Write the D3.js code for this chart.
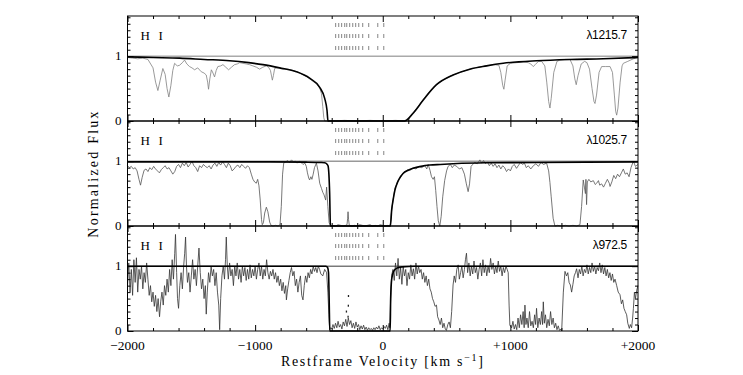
<!DOCTYPE html>
<html>
<head>
<meta charset="utf-8">
<script src="https://cdn.jsdelivr.net/npm/d3@7"></script>
<style>
    body { margin: 0; background: #fff; }
    svg { display: block; }
</style>
</head>
<body>
<svg></svg>
<script>
// velocities in km/s, fluxes normalised to the continuum
var panelNames = ["H I", "H I", "H I"];
var panelLines = ["λ1215.7", "λ1025.7", "λ972.5"];
var xMajor = [-2000, -1000, 0, 1000, 2000];
var xTickLabels = ["\u22122000", "\u22121000", "0", "+1000", "+2000"];
var yLabelled = [0, 1];
var yTickLabels = ["0", "1"];
var componentVel = [-369, -345, -322, -298, -282, -259, -235, -212, -188, -157, -110, -39, 8];

var lyaData = [[-2000,0.98],[-1960,0.97],[-1920,0.96],[-1880,0.97],[-1840,0.95],[-1800,0.82],[-1780,0.6],[-1762,0.47],[-1745,0.62],[-1723,0.81],[-1705,0.72],[-1690,0.5],[-1676,0.37],[-1660,0.55],[-1645,0.78],[-1631,0.89],[-1610,0.85],[-1592,0.86],[-1570,0.9],[-1553,0.94],[-1535,0.88],[-1514,0.84],[-1495,0.82],[-1474,0.79],[-1450,0.82],[-1422,0.76],[-1400,0.74],[-1383,0.71],[-1372,0.6],[-1365,0.49],[-1355,0.65],[-1343,0.79],[-1330,0.74],[-1318,0.68],[-1305,0.78],[-1292,0.84],[-1270,0.85],[-1252,0.87],[-1230,0.83],[-1208,0.79],[-1185,0.83],[-1161,0.87],[-1140,0.88],[-1121,0.9],[-1095,0.89],[-1069,0.88],[-1045,0.87],[-1017,0.85],[-990,0.83],[-965,0.8],[-940,0.83],[-912,0.85],[-895,0.83],[-880,0.78],[-870,0.68],[-865,0.63],[-857,0.7],[-847,0.81],[-830,0.82],[-808,0.82],[-780,0.8],[-750,0.8],[-720,0.79],[-690,0.77],[-660,0.75],[-630,0.72],[-600,0.69],[-573,0.65],[-545,0.61],[-520,0.57],[-494,0.51],[-480,0.42],[-470,0.22],[-462,0.05],[-455,0],[-400,0],[-300,0.01],[-200,0],[-100,0.01],[0,0],[100,0.01],[172,0],[200,0.05],[238,0.13],[280,0.23],[316,0.33],[360,0.44],[421,0.56],[480,0.64],[551,0.71],[620,0.76],[682,0.8],[750,0.83],[813,0.85],[870,0.87],[910,0.86],[925,0.75],[940,0.55],[949,0.49],[958,0.62],[975,0.85],[1000,0.89],[1050,0.9],[1100,0.91],[1140,0.9],[1160,0.88],[1179,0.84],[1195,0.87],[1220,0.92],[1245,0.92],[1270,0.85],[1285,0.6],[1300,0.3],[1310,0.2],[1320,0.35],[1340,0.75],[1365,0.92],[1388,0.94],[1430,0.95],[1467,0.95],[1490,0.85],[1505,0.65],[1516,0.56],[1530,0.7],[1555,0.88],[1582,0.92],[1600,0.9],[1620,0.8],[1640,0.5],[1655,0.3],[1663,0.27],[1675,0.4],[1695,0.75],[1715,0.84],[1745,0.84],[1781,0.84],[1800,0.75],[1815,0.4],[1825,0.15],[1833,0.09],[1843,0.2],[1860,0.6],[1875,0.85],[1885,0.89],[1920,0.92],[1964,0.96],[2000,0.98]];
var lyaModel = [[-2000,0.99],[-1800,0.98],[-1592,0.97],[-1400,0.95],[-1200,0.93],[-1050,0.9],[-939,0.87],[-808,0.82],[-677,0.76],[-573,0.66],[-494,0.52],[-455,0.35],[-437,0.17],[-429,0],[172,0],[238,0.12],[316,0.32],[421,0.56],[551,0.71],[682,0.8],[813,0.85],[944,0.89],[1205,0.93],[1467,0.95],[1728,0.96],[2000,0.98]];

var lybData = [[-2000,0.93],[-1985,0.9],[-1970,0.92],[-1955,0.88],[-1940,0.9],[-1925,0.85],[-1910,0.72],[-1898,0.63],[-1885,0.75],[-1870,0.86],[-1855,0.88],[-1840,0.84],[-1825,0.9],[-1810,0.87],[-1795,0.92],[-1780,0.88],[-1765,0.85],[-1750,0.82],[-1735,0.87],[-1720,0.9],[-1705,0.93],[-1690,0.88],[-1675,0.9],[-1660,0.85],[-1645,0.8],[-1630,0.84],[-1615,0.92],[-1600,0.95],[-1585,0.9],[-1570,0.97],[-1555,0.93],[-1540,0.98],[-1525,0.91],[-1510,0.95],[-1495,1.0],[-1480,0.93],[-1465,0.9],[-1450,0.84],[-1435,0.93],[-1420,0.9],[-1405,0.95],[-1390,0.92],[-1375,0.9],[-1360,0.93],[-1345,0.88],[-1330,0.94],[-1315,0.97],[-1300,0.92],[-1285,0.98],[-1270,0.94],[-1255,0.99],[-1240,0.95],[-1225,0.9],[-1210,0.97],[-1195,0.93],[-1180,0.85],[-1165,0.88],[-1150,0.92],[-1135,0.94],[-1120,0.9],[-1105,0.95],[-1090,0.92],[-1075,0.89],[-1060,0.93],[-1045,0.9],[-1030,0.8],[-1017,0.72],[-1004,0.68],[-991,0.66],[-980,0.72],[-970,0.62],[-960,0.4],[-950,0.1],[-944,0.02],[-935,0.05],[-925,0.2],[-912,0.29],[-900,0.22],[-886,0.06],[-875,0.01],[-860,0],[-840,0.01],[-820,0],[-805,0.02],[-795,0.3],[-785,0.8],[-776,0.97],[-760,0.99],[-745,1.01],[-730,0.98],[-715,1.02],[-700,0.99],[-685,1.0],[-670,0.97],[-655,1.0],[-640,0.98],[-625,0.95],[-610,0.97],[-599,0.92],[-590,0.82],[-580,0.74],[-573,0.71],[-563,0.76],[-555,0.72],[-545,0.8],[-535,0.9],[-520,0.97],[-507,0.85],[-494,0.66],[-480,0.58],[-470,0.52],[-460,0.48],[-447,0.4],[-440,0.6],[-430,0.3],[-420,0.05],[-410,0],[-390,0.01],[-370,0],[-350,0.02],[-330,0.01],[-310,0],[-290,0.01],[-280,0.02],[-275,0.12],[-272,0.22],[-268,0.1],[-262,0.01],[-240,0],[-220,0.01],[-200,0],[-180,0.02],[-160,0.01],[-140,0],[-120,0.01],[-100,0.02],[-80,0],[-60,0.01],[-40,0],[-20,0.02],[0,0.01],[20,0],[40,0.01],[55,0],[60,0.05],[70,0.25],[81,0.4],[95,0.58],[107,0.63],[120,0.7],[135,0.74],[159,0.81],[175,0.84],[195,0.87],[215,0.86],[238,0.9],[260,0.88],[285,0.92],[305,0.9],[330,0.93],[345,0.88],[356,0.95],[370,0.86],[382,0.76],[395,0.72],[405,0.76],[415,0.55],[425,0.3],[435,0.08],[447,0],[458,0.15],[470,0.45],[485,0.7],[500,0.85],[512,0.92],[530,0.95],[545,0.9],[560,0.94],[580,0.92],[600,0.88],[620,0.9],[640,0.8],[655,0.65],[669,0.53],[680,0.65],[692,0.92],[705,0.95],[720,0.98],[740,0.96],[761,1.02],[775,0.97],[790,1.01],[805,0.96],[820,0.99],[835,0.93],[850,0.97],[865,0.92],[880,0.96],[895,0.9],[910,0.94],[925,0.88],[940,0.93],[955,0.9],[970,0.84],[985,0.88],[1000,0.85],[1015,0.92],[1030,0.95],[1048,0.89],[1065,0.94],[1080,0.98],[1095,0.95],[1110,0.97],[1125,0.9],[1140,0.93],[1160,0.88],[1180,0.93],[1200,0.96],[1220,0.92],[1240,0.98],[1260,0.95],[1284,0.97],[1300,0.85],[1310,0.67],[1320,0.45],[1335,0.12],[1349,0],[1370,0.01],[1400,0],[1430,0.01],[1460,0],[1490,0.01],[1520,0],[1545,0.02],[1558,0.3],[1571,0.71],[1580,0.6],[1588,0.5],[1592,0.72],[1597,0.33],[1603,0.68],[1615,0.72],[1630,0.68],[1650,0.7],[1665,0.64],[1676,0.66],[1690,0.7],[1700,0.63],[1715,0.65],[1730,0.6],[1745,0.66],[1760,0.72],[1775,0.66],[1781,0.61],[1795,0.68],[1810,0.78],[1825,0.73],[1840,0.8],[1855,0.76],[1870,0.82],[1885,0.88],[1900,0.8],[1915,0.82],[1930,0.76],[1945,0.9],[1964,1.0],[1980,0.92],[2000,0.95]];
var lybModel = [[-2000,0.99],[-1000,0.99],[-600,0.985],[-480,0.98],[-455,0.975],[-440,0.96],[-429,0.93],[-422,0.8],[-416,0.5],[-410,0],[60,0],[70,0.25],[81,0.4],[95,0.55],[107,0.63],[130,0.73],[159,0.81],[200,0.86],[238,0.89],[300,0.92],[369,0.94],[450,0.95],[551,0.96],[800,0.975],[1200,0.98],[2000,0.99]];

var lygData = [[-2000,0.7],[-1990,1.05],[-1980,0.6],[-1970,0.95],[-1960,0.55],[-1950,1.1],[-1940,0.75],[-1930,1.13],[-1920,0.6],[-1910,0.95],[-1900,0.8],[-1890,1.0],[-1880,0.65],[-1870,0.9],[-1860,0.75],[-1850,1.05],[-1840,0.8],[-1830,0.55],[-1820,0.7],[-1810,0.45],[-1800,0.6],[-1790,0.38],[-1780,0.55],[-1770,0.3],[-1760,0.5],[-1749,0.22],[-1740,0.45],[-1730,0.6],[-1720,0.4],[-1710,0.7],[-1700,0.55],[-1690,0.8],[-1680,0.6],[-1670,0.95],[-1660,0.7],[-1650,1.1],[-1640,0.8],[-1630,1.2],[-1624,1.49],[-1615,0.9],[-1608,0.5],[-1600,0.35],[-1590,0.7],[-1580,0.9],[-1570,0.65],[-1560,1.0],[-1552,1.2],[-1545,1.45],[-1538,1.0],[-1530,0.75],[-1520,0.9],[-1510,0.6],[-1500,0.85],[-1490,1.1],[-1480,0.8],[-1470,0.95],[-1460,0.7],[-1450,1.0],[-1440,1.28],[-1430,0.9],[-1420,0.65],[-1410,0.8],[-1400,0.5],[-1390,0.7],[-1383,0.26],[-1375,0.6],[-1365,0.9],[-1355,0.75],[-1345,1.0],[-1335,0.85],[-1325,0.95],[-1315,0.7],[-1305,0.9],[-1295,0.6],[-1285,0.4],[-1278,0.02],[-1270,0.5],[-1260,0.85],[-1250,1.0],[-1240,0.8],[-1232,1.1],[-1226,1.45],[-1218,1.0],[-1210,0.8],[-1200,1.05],[-1190,0.85],[-1180,0.95],[-1170,0.7],[-1160,1.0],[-1150,0.85],[-1140,1.05],[-1130,0.8],[-1120,0.95],[-1110,0.75],[-1100,1.0],[-1090,0.85],[-1080,0.98],[-1070,0.78],[-1060,0.95],[-1050,0.8],[-1040,1.02],[-1030,0.82],[-1020,0.95],[-1010,0.85],[-1000,1.0],[-990,0.8],[-980,0.95],[-970,1.05],[-960,0.85],[-950,1.0],[-940,0.8],[-930,0.95],[-920,0.85],[-910,1.1],[-900,0.9],[-890,0.8],[-880,0.92],[-870,0.85],[-860,0.95],[-850,0.8],[-840,0.9],[-830,0.75],[-820,0.85],[-810,0.7],[-800,0.8],[-790,0.62],[-780,0.75],[-770,0.58],[-760,0.7],[-755,0.48],[-745,0.65],[-735,0.78],[-725,0.9],[-715,0.98],[-705,0.85],[-695,0.92],[-685,0.7],[-675,0.8],[-665,0.6],[-655,0.75],[-645,0.85],[-635,0.55],[-625,0.48],[-615,0.7],[-605,0.85],[-595,0.75],[-585,0.9],[-575,0.82],[-565,0.95],[-555,0.88],[-545,1.0],[-535,0.92],[-525,0.98],[-515,0.9],[-505,1.0],[-495,0.95],[-485,0.88],[-470,0.85],[-455,0.95],[-440,0.9],[-430,0.6],[-422,0.25],[-416,0.02],[-410,0.05],[-400,0.03],[-390,0.1],[-380,0.04],[-370,0.12],[-360,0.05],[-350,0.15],[-340,0.06],[-330,0.1],[-320,0.03],[-310,0.14],[-300,0.08],[-290,0.18],[-280,0.07],[-270,0.2],[-260,0.1],[-250,0.16],[-240,0.05],[-230,0.12],[-220,0.04],[-210,0.14],[-200,0.06],[-190,0.1],[-180,0.02],[-170,0.08],[-160,0.03],[-150,0.09],[-140,0.02],[-130,0.06],[-120,0.01],[-110,0.05],[-100,0.02],[-90,0.04],[-80,0.01],[-70,0.05],[-60,0.02],[-50,0.06],[-40,0.03],[-30,0.08],[-20,0.02],[-10,0.05],[0,0.03],[10,0.07],[20,0.04],[30,0.09],[40,0.02],[50,0.12],[55,0.05],[62,0.5],[70,0.86],[80,0.95],[90,0.78],[100,1.05],[110,0.85],[120,1.12],[130,0.8],[140,0.98],[150,0.72],[160,1.0],[170,0.85],[180,0.95],[190,0.7],[200,0.9],[210,0.8],[220,1.02],[230,0.85],[240,0.96],[250,0.8],[260,1.05],[270,0.88],[280,1.0],[290,0.9],[300,0.95],[310,0.8],[320,0.9],[330,0.75],[340,0.85],[350,0.7],[360,0.8],[370,0.65],[380,0.6],[390,0.5],[400,0.45],[410,0.38],[421,0.4],[430,0.22],[440,0.17],[450,0.1],[460,0.2],[470,0.05],[480,0.12],[490,0.03],[499,0.01],[510,0.1],[520,0.14],[530,0.05],[540,0.3],[551,0.71],[560,0.85],[570,0.75],[580,0.95],[591,1.02],[600,0.8],[610,0.9],[620,1.0],[630,0.82],[640,0.95],[648,1.1],[656,1.2],[665,0.9],[675,1.05],[685,0.85],[695,1.0],[705,0.88],[715,1.08],[725,0.9],[735,0.98],[745,0.8],[755,0.95],[765,1.05],[775,0.85],[785,1.1],[795,0.9],[805,1.02],[815,0.85],[825,1.0],[835,0.9],[845,1.12],[855,0.95],[865,1.05],[875,0.88],[885,1.0],[895,0.9],[905,1.08],[915,0.92],[925,1.0],[935,0.85],[945,0.98],[955,0.9],[965,1.0],[975,0.95],[983,0.9],[990,0.4],[996,0.09],[1010,0.05],[1020,0.15],[1030,0.03],[1040,0.1],[1050,0.02],[1060,0.2],[1070,0.05],[1080,0.25],[1090,0.1],[1100,0.3],[1108,0.05],[1114,0.4],[1122,0.1],[1130,0.2],[1140,0.05],[1150,0.3],[1160,0.08],[1170,0.15],[1180,0.05],[1190,0.25],[1198,0.1],[1205,0.35],[1215,0.05],[1225,0.2],[1235,0.1],[1245,0.3],[1252,0.1],[1258,0.45],[1266,0.12],[1275,0.25],[1285,0.05],[1295,0.18],[1305,0.08],[1315,0.3],[1325,0.1],[1335,0.2],[1345,0.05],[1355,0.12],[1365,0.02],[1375,0.08],[1385,0.01],[1395,0.03],[1402,0],[1415,0.6],[1428,0.92],[1440,0.85],[1450,0.9],[1460,0.75],[1470,0.71],[1480,0.6],[1490,0.72],[1500,0.85],[1510,0.9],[1519,0.96],[1530,0.82],[1540,0.95],[1550,0.88],[1560,1.0],[1570,0.85],[1580,0.95],[1590,0.9],[1600,1.02],[1610,0.88],[1620,0.98],[1630,0.9],[1640,1.05],[1650,0.92],[1660,1.0],[1670,0.88],[1680,0.98],[1690,0.93],[1700,1.05],[1710,0.9],[1720,1.02],[1730,0.88],[1740,0.98],[1750,0.85],[1760,0.95],[1770,0.82],[1780,0.9],[1790,0.78],[1800,0.88],[1810,0.75],[1820,0.8],[1833,0.7],[1845,0.6],[1859,0.56],[1870,0.42],[1880,0.48],[1890,0.35],[1900,0.3],[1911,0.25],[1920,0.12],[1932,0.04],[1940,0.1],[1950,0.05],[1958,0.2],[1964,0.35],[1972,0.6],[1980,0.5],[1990,0.63],[2000,0.7]];
var lygDots = [[-269,0.54],[-270,0.39],[-272,0.22],[-285,0.3]];
var lygModel = [[-2000,1.0],[-445,1.0],[-432,0.98],[-425,0.9],[-420,0.5],[-415,0],[58,0],[62,0.5],[70,0.8],[85,0.92],[110,0.97],[150,0.99],[250,1.0],[2000,1.0]];

var panels = [
    {data: lyaData, model: lyaModel, dots: [], color: "#808080", unity: "#aaa", unityWidth: 1.6},
    {data: lybData, model: lybModel, dots: [], color: "#555", unity: "#999", unityWidth: 1.4},
    {data: lygData, model: lygModel, dots: lygDots, color: "#333", unity: "#222", unityWidth: 0.9}
];

var svg = d3.select("svg").attr("width", 743).attr("height", 375),
    margin = {top: 16, left: 127.5},
    width = 510.5,
    panelHeight = 105;

var x = d3.scaleLinear().domain([-2000, 2000]).range([0, width]);
var y = d3.scaleLinear().domain([0, 1.62]).range([panelHeight, 0]);

var line = d3.line()
    .x(function (d) { return x(d[0]); })
    .y(function (d) { return y(d[1]); });
var modelLine = d3.line()
    .curve(d3.curveMonotoneX)
    .x(function (d) { return x(d[0]); })
    .y(function (d) { return y(d[1]); });

var xMinor = d3.range(-2000, 2001, 200).filter(function (v) { return xMajor.indexOf(v) < 0; });
var yMinor = d3.range(0, 1.62, 0.1).map(function (v) { return +v.toFixed(1); }).filter(function (v) { return yLabelled.indexOf(v) < 0; });

function tickAxis(g, axis, values, size) {
    g.call(axis.tickValues(values).tickSize(size).tickFormat(""))
        .call(function (s) { s.select(".domain").remove(); })
        .selectAll(".tick line").attr("stroke", "#000");
}

panels.forEach(function (p, i) {
    var g = svg.append("g")
        .attr("transform", "translate(" + margin.left + "," + (margin.top + i * panelHeight) + ")");

    g.append("line")
        .attr("x1", 0).attr("x2", width)
        .attr("y1", y(1)).attr("y2", y(1))
        .attr("stroke", p.unity).attr("stroke-width", p.unityWidth);

    g.append("path").datum(p.data)
        .attr("fill", "none").attr("stroke", p.color).attr("stroke-width", 0.8)
        .attr("d", line);

    g.selectAll(".dot").data(p.dots).enter().append("rect")
        .attr("x", function (d) { return x(d[0]) - 0.6; })
        .attr("y", function (d) { return y(d[1]) - 1; })
        .attr("width", 1.3).attr("height", 2).attr("fill", "#222");

    g.append("path").datum(p.model)
        .attr("fill", "none").attr("stroke", "#000").attr("stroke-width", 1.6)
        .attr("d", modelLine);

    // component markers, three rows
    [9, 20, 32].forEach(function (ty) {
        g.selectAll(null).data(componentVel).enter().append("line")
            .attr("x1", function (d) { return x(d); }).attr("x2", function (d) { return x(d); })
            .attr("y1", ty - 2).attr("y2", ty + 2)
            .attr("stroke", "#666").attr("stroke-width", 0.8);
    });

    // inward ticks on all four sides
    tickAxis(g.append("g").attr("transform", "translate(0," + panelHeight + ")"), d3.axisBottom(x), xMajor, -6);
    tickAxis(g.append("g").attr("transform", "translate(0," + panelHeight + ")"), d3.axisBottom(x), xMinor, -3);
    tickAxis(g.append("g"), d3.axisTop(x), xMajor, -6);
    tickAxis(g.append("g"), d3.axisTop(x), xMinor, -3);
    tickAxis(g.append("g"), d3.axisLeft(y), yLabelled, -6);
    tickAxis(g.append("g"), d3.axisLeft(y), yMinor, -3);
    tickAxis(g.append("g").attr("transform", "translate(" + width + ",0)"), d3.axisRight(y), yLabelled, -6);
    tickAxis(g.append("g").attr("transform", "translate(" + width + ",0)"), d3.axisRight(y), yMinor, -3);

    g.selectAll(".ylab").data(yLabelled).enter().append("text")
        .attr("x", -6).attr("y", function (d) { return y(d); }).attr("dy", "0.3em")
        .attr("text-anchor", "end")
        .style("font-family", "Liberation Serif, serif").style("font-size", "13px")
        .text(function (d, k) { return yTickLabels[k]; });

    g.append("rect")
        .attr("width", width).attr("height", panelHeight)
        .attr("fill", "none").attr("stroke", "#000").attr("stroke-width", 1);

    var name = panelNames[i].split(" ");
    g.append("text").attr("x", 13).attr("y", 24)
        .style("font-family", "Liberation Serif, serif").style("font-size", "13px")
        .text(name[0]);
    g.append("text").attr("x", 31).attr("y", 24)
        .style("font-family", "Liberation Serif, serif").style("font-size", "13px")
        .text(name[1]);
    g.append("text").attr("x", width - 11).attr("y", 23)
        .attr("text-anchor", "end")
        .style("font-family", "Liberation Sans, sans-serif").style("font-size", "12px")
        .style("letter-spacing", "-0.3px")
        .text(panelLines[i]);
});

var bottom = margin.top + 3 * panelHeight;
svg.append("g").selectAll("text").data(xMajor).enter().append("text")
    .attr("x", function (d) { return margin.left + x(d); })
    .attr("y", bottom + 19)
    .attr("text-anchor", "middle")
    .style("font-family", "Liberation Serif, serif").style("font-size", "13.5px")
    .text(function (d, k) { return xTickLabels[k]; });

var xlab = svg.append("text")
    .attr("x", margin.left + width / 2).attr("y", bottom + 35)
    .attr("text-anchor", "middle")
    .style("font-family", "Liberation Serif, serif").style("font-size", "14px")
    .style("letter-spacing", "1.7px");
xlab.append("tspan").text("Restframe Velocity [km s");
xlab.append("tspan").attr("dy", -5).style("font-size", "10px").text("\u22121");
xlab.append("tspan").attr("dy", 5).text("]");

svg.append("text")
    .attr("transform", "translate(98," + (margin.top + 1.5 * panelHeight) + ") rotate(-90)")
    .attr("text-anchor", "middle")
    .style("font-family", "Liberation Serif, serif").style("font-size", "14px")
    .style("letter-spacing", "2.2px")
    .text("Normalized Flux");
</script>
</body>
</html>
